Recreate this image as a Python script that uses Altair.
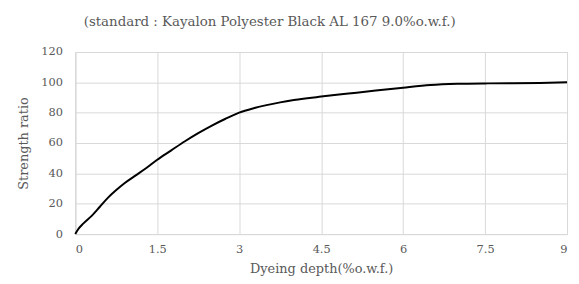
import altair as alt
import pandas as pd

depth = [0, 0.05, 0.15, 0.3, 0.45, 0.6, 0.75, 0.9, 1.1, 1.3, 1.5, 1.75, 2.0, 2.25, 2.5, 2.75, 3.0, 3.25, 3.5, 3.75, 4.0, 4.5, 5.0, 5.5, 6.0, 6.5, 7.0, 7.5, 8.0, 8.5, 9.0]
strength = [0, 3, 7, 12, 18, 24, 29, 33.5, 38.5, 43.5, 49, 55, 61, 66.5, 71.5, 76, 80, 82.8, 85, 86.8, 88.3, 90.6, 92.6, 94.6, 96.5, 98.2, 99.0, 99.3, 99.4, 99.6, 100]
x_ticks = [0, 1.5, 3, 4.5, 6, 7.5, 9]
y_ticks = [0, 20, 40, 60, 80, 100, 120]

df = pd.DataFrame({"depth": depth, "strength": strength})

FONT = "DejaVu Serif"
GREY = "#595959"

chart = alt.Chart(df).mark_line(color="black", strokeWidth=2, interpolate="monotone").encode(
    x=alt.X("depth:Q", scale=alt.Scale(domain=[0, 9], nice=False),
            axis=alt.Axis(values=x_ticks, labelExpr="datum.value + ''", title="Dyeing depth(%o.w.f.)",
                          labelFontSize=11.5, titleFontSize=13, labelPadding=10, titlePadding=7,
                          labelOverlap=False)),
    y=alt.Y("strength:Q", scale=alt.Scale(domain=[0, 120], nice=False),
            axis=alt.Axis(values=y_ticks, format="d", title="Strength ratio",
                          labelFontSize=11.5, titleFontSize=13, labelPadding=13, titlePadding=10)),
).properties(
    width=497, height=184,
    title=alt.TitleParams("(standard : Kayalon Polyester Black AL 167 9.0%o.w.f.)",
                          fontSize=13.5, font=FONT, color=GREY, fontWeight="normal",
                          anchor="middle", dx=-52, offset=18),
    padding={"left": 68, "top": 43, "right": 4, "bottom": 48},
    autosize=alt.AutoSizeParams(type="none"),
).configure_axis(
    grid=True, gridColor="#d9d9d9", gridWidth=1,
    domainColor="#d9d9d9", ticks=False,
    labelFont=FONT, titleFont=FONT, labelColor=GREY, titleColor=GREY,
    titleFontWeight="normal",
).configure_view(stroke="#d9d9d9")

chart.save("out.html", embed_options={"renderer": "svg", "actions": False})
